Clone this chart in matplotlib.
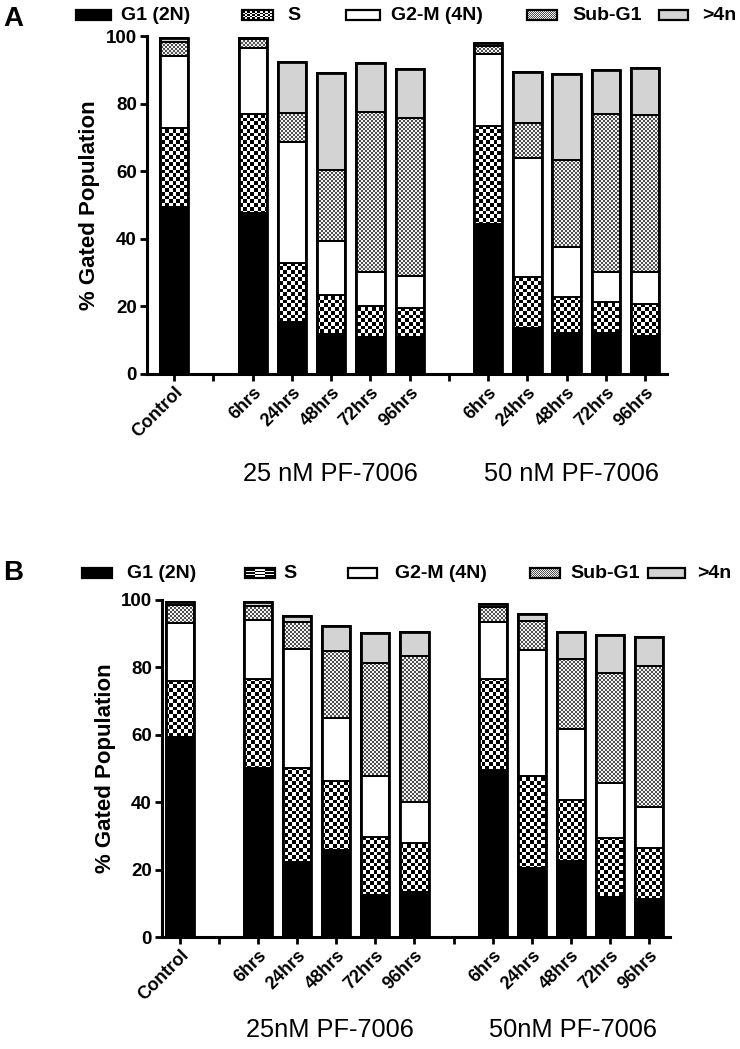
import numpy as np
import matplotlib.pyplot as plt
from matplotlib.path import Path
from matplotlib.patches import Rectangle
from matplotlib.colors import ListedColormap

plt.rcParams['font.family'] = ['Liberation Sans', 'DejaVu Sans']

# x categories (blank slots are the gaps between the groups)
tick_labels = ['Control', '', '6hrs', '24hrs', '48hrs', '72hrs', '96hrs',
               '', '6hrs', '24hrs', '48hrs', '72hrs', '96hrs']
phases = ['G1 (2N)', 'S', 'G2-M (4N)', 'Sub-G1', '>4n']

# panel A - segment heights (% gated), order: Control, 25nM 6..96hrs, 50nM 6..96hrs
a_g1 = [49.5, 47.7, 15.5, 11.8, 10.8, 11.0, 44.3, 13.5, 12.0, 12.0, 11.2]
a_s = [23.2, 29.2, 17.2, 11.6, 9.4, 8.6, 29.1, 15.3, 10.9, 9.4, 9.4]
a_g2m = [21.5, 19.5, 36.0, 16.0, 10.1, 9.4, 21.2, 35.0, 14.8, 8.9, 9.7]
a_subg1 = [4.1, 2.8, 8.4, 21.0, 47.3, 46.6, 2.4, 10.4, 25.6, 46.6, 46.3]
a_gt4n = [1.0, 0.3, 15.1, 28.6, 14.3, 14.6, 1.0, 15.1, 25.4, 13.0, 13.8]
a_groups = ['25 nM PF-7006', '50 nM PF-7006']

# panel B
b_g1 = [59.5, 50.3, 22.2, 25.9, 12.5, 13.5, 49.6, 20.5, 22.6, 11.8, 11.3]
b_s = [16.5, 26.2, 27.9, 20.4, 17.3, 14.6, 26.9, 27.3, 18.1, 17.5, 15.1]
b_g2m = [17.3, 17.6, 35.3, 18.6, 18.0, 11.9, 16.9, 37.4, 21.0, 16.4, 12.1]
b_subg1 = [5.2, 4.1, 8.2, 20.0, 33.6, 43.4, 4.4, 8.7, 20.7, 32.8, 42.0]
b_gt4n = [1.0, 1.1, 1.8, 7.5, 8.7, 7.0, 0.9, 1.9, 8.0, 11.1, 8.4]
b_groups = ['25nM PF-7006', '50nM PF-7006']

# fill style per phase: ('solid', colour) or ('checker', square px, colour1, colour2)
styles = [('solid', 'black'),
          ('checker', 3.7, 'black', 'white'),
          ('solid', 'white'),
          ('checker', 2.0, '#505050', '#f2f2f2'),
          ('solid', '#d3d3d3')]

W, H = 740, 1049
fig = plt.figure(figsize=(W / 100, H / 100), dpi=100)


def checker_image(ax, extent, sq, c1, c2, clip, transform, z):
    x0, x1, y0, y1 = extent
    p0 = transform.transform((x0, y0))
    p1 = transform.transform((x1, y1))
    nx = max(1, int(round(abs(p1[0] - p0[0]) / sq)))
    ny = max(1, int(round(abs(p1[1] - p0[1]) / sq)))
    arr = np.indices((ny, nx)).sum(0) % 2
    im = ax.imshow(arr, extent=extent, aspect='auto', origin='lower',
                   interpolation='nearest', cmap=ListedColormap([c1, c2]),
                   zorder=z)
    im.set_clip_path(clip, transform)
    return im


def panel(rect, series, groups, letter, letter_y, group_y, group_x):
    ax = fig.add_axes(rect)
    pos = [i for i, t in enumerate(tick_labels) if t]
    xlim = ax_xlim[letter]
    ax.set_xlim(*xlim)
    ax.set_ylim(0, 100)
    bottom = np.zeros(len(pos))
    for vals, st in zip(series, styles):
        vals = np.array(vals)
        fc = st[1] if st[0] == 'solid' else 'none'
        bars = ax.bar(pos, vals, 0.72, bottom=bottom, color=fc,
                      edgecolor='black', linewidth=1.4, zorder=3)
        if st[0] == 'checker':
            paths = []
            for r in bars:
                x, y, w, h = r.get_x(), r.get_y(), r.get_width(), r.get_height()
                paths.append(Path([(x, y), (x + w, y), (x + w, y + h), (x, y + h), (x, y)]))
            checker_image(ax, (xlim[0], xlim[1], 0, 100), st[1], st[2], st[3],
                          Path.make_compound_path(*paths), ax.transData, 2)
        bottom = bottom + vals
    # thicker outline of each stacked bar
    ax.bar(pos, bottom, 0.72, fill=False, edgecolor='black', linewidth=2.0, zorder=4)
    ax.set_xlim(*xlim)
    ax.set_ylim(0, 100)

    for s in ['top', 'right']:
        ax.spines[s].set_visible(False)
    for s in ['left', 'bottom']:
        ax.spines[s].set_linewidth(2.2)
    ax.set_yticks([0, 20, 40, 60, 80, 100])
    ax.set_xticks(range(len(tick_labels)))
    ax.set_xticklabels(tick_labels, rotation=45, ha='right', rotation_mode='anchor',
                       fontsize=13, fontweight='bold')
    for t in ax.get_yticklabels():
        t.set_fontsize(13.5)
        t.set_fontweight('bold')
    ax.tick_params(direction='out', length=5, width=2, pad=2)
    ax.set_ylabel('% Gated Population', fontsize=16, fontweight='bold')
    ax.yaxis.set_label_coords(ylab_x[letter], 0.5)

    for gx, g in zip(group_x, groups):
        fig.text(gx / W, 1 - group_y / H, g, fontsize=18.3, ha='center', va='center')
    fig.text(3 / W, 1 - letter_y / H, letter, fontsize=20, fontweight='bold',
             ha='left', va='center')
    return ax


def legend_row(y_px, sw, tx):
    lax = fig.add_axes([0, 1 - (y_px + 12) / H, 1, 24 / H])
    lax.set_xlim(0, W)
    lax.set_ylim(-12, 12)
    lax.axis('off')
    for (x0, x1), t, name, st in zip(sw, tx, phases, styles):
        fc = st[1] if st[0] == 'solid' else 'none'
        r = Rectangle((x0, -5), x1 - x0, 10, facecolor=fc, edgecolor='black',
                      linewidth=1.6, zorder=3)
        lax.add_patch(r)
        if st[0] == 'checker':
            checker_image(lax, (x0, x1, -5, 5), st[1], st[2], st[3],
                          r.get_path(), r.get_transform(), 2)
        lax.text(t, 0, name, fontsize=14, fontweight='bold', va='center', ha='left')
    lax.set_xlim(0, W)
    lax.set_ylim(-12, 12)


ax_xlim = {'A': (-0.70, 12.55), 'B': (-0.47, 12.54)}
ylab_x = {'A': -0.090, 'B': -0.089}

panel([146.7 / W, (H - 374) / H, 520 / W, 338 / H],
      [a_g1, a_s, a_g2m, a_subg1, a_gt4n], a_groups, 'A', 19, 474, [330, 572])
panel([161.7 / W, (H - 937.3) / H, 508.3 / W, 337.3 / H],
      [b_g1, b_s, b_g2m, b_subg1, b_gt4n], b_groups, 'B', 573, 1030, [330, 573])

legend_row(15, [(76, 111), (242, 273), (346, 380), (527, 557), (659, 688)],
           [121, 287, 391, 572, 702])
legend_row(573, [(82, 112), (245, 275), (348, 377), (530, 560), (648, 685)],
           [127, 283, 395, 570, 697])

fig.savefig('out.png', dpi=100)
